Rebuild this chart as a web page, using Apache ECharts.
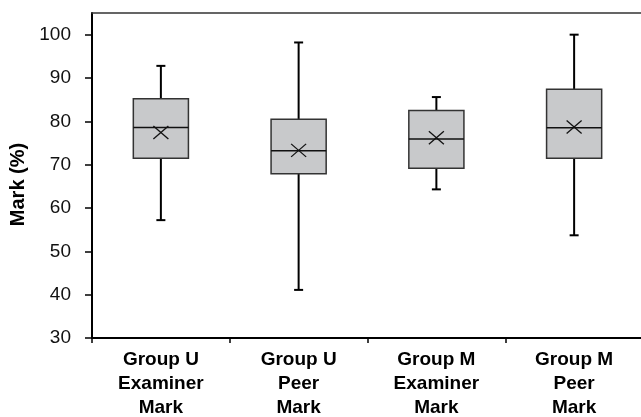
<!DOCTYPE html>
<html>
<head>
<meta charset="utf-8">
<script src="https://cdn.jsdelivr.net/npm/echarts@6/dist/echarts.min.js"></script>
<style>html,body{margin:0;padding:0;background:#fff}#c{width:641px;height:417px}</style>
</head>
<body>
<div id="c"></div>
<script>
var categories = ['Group U\nExaminer\nMark', 'Group U\nPeer\nMark', 'Group M\nExaminer\nMark', 'Group M\nPeer\nMark'];
var whiskerLow = [57.2, 41.1, 64.3, 53.7];
var q1 = [71.5, 67.9, 69.2, 71.5];
var median = [78.6, 73.2, 75.9, 78.5];
var q3 = [85.2, 80.5, 82.5, 87.4];
var whiskerHigh = [92.8, 98.2, 85.6, 100];
var mean = [77.4, 73.3, 76.2, 78.7];
var yTickValues = [30, 40, 50, 60, 70, 80, 90, 100];
var yRange = {min: 30, max: 105, interval: 10};

var FONT = '"Liberation Sans", Arial, sans-serif';
var data = categories.map(function (c, i) {
  return [i, whiskerLow[i], q1[i], median[i], q3[i], whiskerHigh[i], mean[i]];
});

function renderItem(params, api) {
  var i = api.value(0);
  var pLow = api.coord([i, api.value(1)]);
  var pQ1 = api.coord([i, api.value(2)]);
  var pMed = api.coord([i, api.value(3)]);
  var pQ3 = api.coord([i, api.value(4)]);
  var pHigh = api.coord([i, api.value(5)]);
  var pMean = api.coord([i, api.value(6)]);
  var bw = api.size([1, 0])[0] * 0.4;
  var cx = pMed[0];
  var cap = 4.5;
  var wStyle = {stroke: '#000', lineWidth: 2};
  var mx = 7.5, my = 6.5;
  return {
    type: 'group',
    children: [
      {type: 'line', shape: {x1: cx, y1: pQ3[1], x2: cx, y2: pHigh[1]}, style: wStyle},
      {type: 'line', shape: {x1: cx, y1: pQ1[1], x2: cx, y2: pLow[1]}, style: wStyle},
      {type: 'line', shape: {x1: cx - cap, y1: pHigh[1], x2: cx + cap, y2: pHigh[1]}, style: wStyle},
      {type: 'line', shape: {x1: cx - cap, y1: pLow[1], x2: cx + cap, y2: pLow[1]}, style: wStyle},
      {type: 'rect', shape: {x: cx - bw / 2, y: pQ3[1], width: bw, height: pQ1[1] - pQ3[1]},
        style: {fill: '#c8c9cb', stroke: '#333', lineWidth: 1.5}},
      {type: 'line', shape: {x1: cx - bw / 2, y1: pMed[1], x2: cx + bw / 2, y2: pMed[1]}, style: {stroke: '#111', lineWidth: 1.5}},
      {type: 'line', shape: {x1: pMean[0] - mx, y1: pMean[1] - my, x2: pMean[0] + mx, y2: pMean[1] + my}, style: {stroke: '#111', lineWidth: 1.3}},
      {type: 'line', shape: {x1: pMean[0] - mx, y1: pMean[1] + my, x2: pMean[0] + mx, y2: pMean[1] - my}, style: {stroke: '#111', lineWidth: 1.3}}
    ]
  };
}

var chart = echarts.init(document.getElementById('c'), null, {renderer: 'canvas'});
chart.setOption({
  animation: false,
  backgroundColor: '#fff',
  grid: {left: 92, top: 13, width: 551, height: 325, show: false, containLabel: false, outerBoundsMode: 'none'},
  xAxis: [{
    type: 'category',
    data: categories,
    boundaryGap: true,
    axisLine: {lineStyle: {color: '#000', width: 2}},
    axisTick: {show: true, length: 5, lineStyle: {color: '#000', width: 1.5}, alignWithLabel: false},
    axisLabel: {color: '#000', fontFamily: FONT, fontWeight: 'bold', fontSize: 19, lineHeight: 23.8, margin: 10, interval: 0},
    splitLine: {show: false}
  }, {
    type: 'category',
    data: categories,
    position: 'top',
    axisLine: {show: true, lineStyle: {color: '#333', width: 1.5}},
    axisTick: {show: false},
    axisLabel: {show: false},
    splitLine: {show: false}
  }],
  yAxis: {
    type: 'value',
    min: yRange.min, max: yRange.max, interval: yRange.interval,
    axisLine: {show: true, lineStyle: {color: '#000', width: 2}},
    axisTick: {show: true, length: 7, lineStyle: {color: '#000', width: 1.5}, customValues: yTickValues},
    axisLabel: {color: '#111', fontFamily: FONT, fontSize: 19, margin: 21, customValues: yTickValues},
    splitLine: {show: false}
  },
  graphic: [{
    type: 'text', x: 18, y: 184.5, rotation: Math.PI / 2,
    style: {text: 'Mark (%)', fill: '#000', font: 'bold 20px ' + FONT, textAlign: 'center', textVerticalAlign: 'middle'}
  }],
  series: [{
    type: 'custom',
    renderItem: renderItem,
    data: data,
    xAxisIndex: 0,
    encode: {x: 0, y: [1, 2, 3, 4, 5, 6]},
    clip: false
  }]
});
</script>
</body>
</html>
